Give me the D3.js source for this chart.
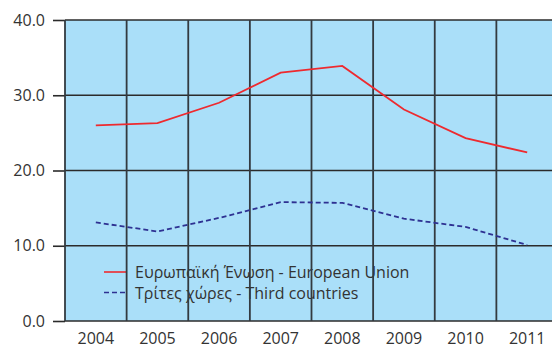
<!DOCTYPE html>
<html>
<head>
<meta charset="utf-8">
<script src="https://cdn.jsdelivr.net/npm/d3@7"></script>
<style>
  html, body { margin: 0; padding: 0; background: #fff; }
  svg { display: block; font-family: "Open Sans", sans-serif; }
</style>
</head>
<body>
<svg id="chart" width="552" height="347"></svg>
<script>
// Yearly shares, two origin groups
const years = ["2004", "2005", "2006", "2007", "2008", "2009", "2010", "2011"];
const euValues = [26.0, 26.3, 29.0, 33.0, 33.9, 28.1, 24.3, 22.4];
const thirdValues = [13.1, 11.9, 13.7, 15.8, 15.7, 13.6, 12.5, 10.1];
const yTicks = [0, 10, 20, 30, 40];
const legendLabels = ["Ευρωπαϊκή Ένωση - European Union", "Τρίτες χώρες - Third countries"];

const svg = d3.select("#chart");
const margin = { left: 65, top: 20, bottom: 26 };
const plotW = 493; // plot runs past the right edge of the canvas
const plotH = 347 - margin.top - margin.bottom;

const x = d3.scaleBand().domain(years).range([margin.left, margin.left + plotW]);
const y = d3.scaleLinear().domain([0, 40]).range([margin.top + plotH, margin.top]);

// plot background
svg.append("rect")
  .attr("x", margin.left).attr("y", margin.top)
  .attr("width", plotW).attr("height", plotH)
  .attr("fill", "#aadff9");

// legend (sits under the grid lines)
const legend = svg.append("g");
const legendStyles = [
  { color: "#ee2a2f", dash: null },
  { color: "#2e3192", dash: "5,3" }
];
legendLabels.forEach((label, i) => {
  const ly = 272 + i * 20.5;
  legend.append("line")
    .attr("x1", 104).attr("x2", 126).attr("y1", ly).attr("y2", ly)
    .attr("stroke", legendStyles[i].color).attr("stroke-width", 1.6)
    .attr("stroke-dasharray", legendStyles[i].dash);
  legend.append("text")
    .attr("x", 135).attr("y", ly + 6)
    .attr("font-size", 16).attr("fill", "#333")
    .text(label);
});

// horizontal grid + y axis
const yAxis = d3.axisLeft(y).tickValues(yTicks).tickFormat(d3.format(".1f"))
  .tickSize(12).tickPadding(8);
const yg = svg.append("g").attr("transform", `translate(${margin.left},0)`).call(yAxis);
yg.select(".domain").remove();
yg.selectAll(".tick line").attr("stroke", "#2b2b2b").attr("stroke-width", 1.6);
yg.selectAll(".tick text").attr("font-size", 16).attr("fill", "#333")
  .attr("font-family", "Open Sans, sans-serif");

svg.append("g").selectAll("line").data(yTicks).join("line")
  .attr("x1", margin.left).attr("x2", margin.left + plotW)
  .attr("y1", d => y(d)).attr("y2", d => y(d))
  .attr("stroke", "#2b2b2b").attr("stroke-width", 1.6);

// vertical category boundaries
const bounds = years.map(d => x(d)).concat([margin.left + plotW]);
svg.append("g").selectAll("line").data(bounds).join("line")
  .attr("x1", d => d).attr("x2", d => d)
  .attr("y1", margin.top).attr("y2", margin.top + plotH)
  .attr("stroke", "#333a40").attr("stroke-width", 1.8);

// x axis labels
svg.append("g").selectAll("text").data(years).join("text")
  .attr("x", d => x(d) + x.bandwidth() / 2)
  .attr("y", 344)
  .attr("text-anchor", "middle")
  .attr("font-size", 16).attr("fill", "#333")
  .text(d => d);

// series lines
const line = vals => d3.line()
  .x((d, i) => x(years[i]) + x.bandwidth() / 2)
  .y(d => y(d))(vals);

svg.append("path").attr("d", line(euValues))
  .attr("fill", "none").attr("stroke", "#ee2a2f").attr("stroke-width", 1.8);
svg.append("path").attr("d", line(thirdValues))
  .attr("fill", "none").attr("stroke", "#2e3192").attr("stroke-width", 1.8)
  .attr("stroke-dasharray", "5,3");
</script>
</body>
</html>
